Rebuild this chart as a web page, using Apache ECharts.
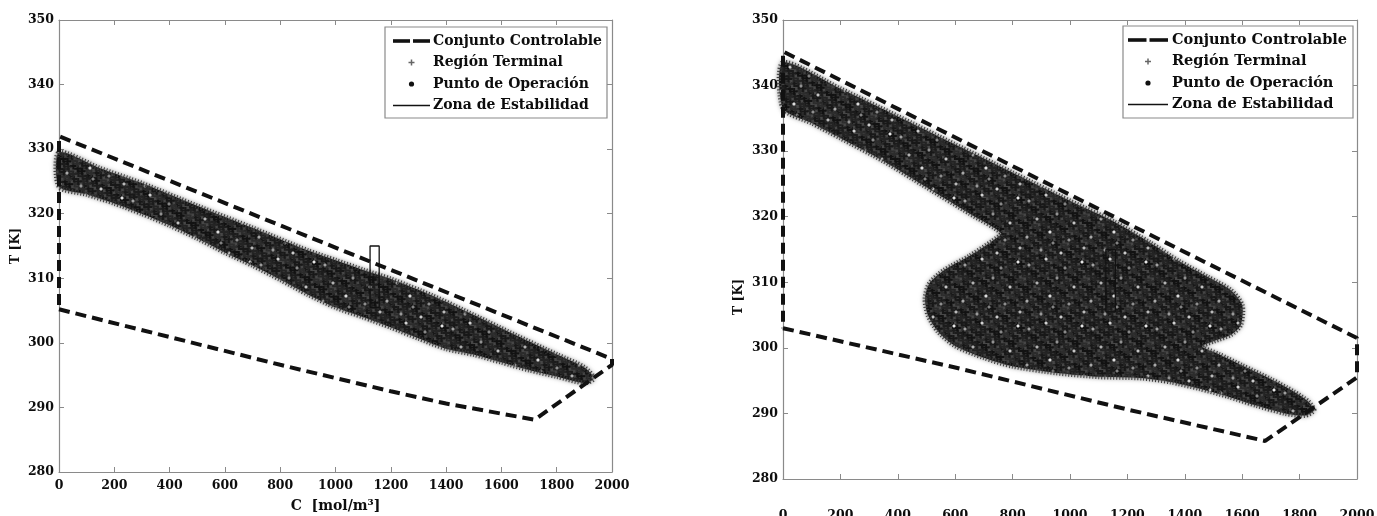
<!DOCTYPE html>
<html>
<head>
<meta charset="utf-8">
<script src="https://cdn.jsdelivr.net/npm/echarts@6/dist/echarts.min.js"></script>
<style>
  html, body { margin: 0; padding: 0; background: #ffffff; }
  #chart { width: 1377px; height: 516px; }
</style>
</head>
<body>
<div id="chart"></div>
<script>
// Controllable set boundary, C [mol/m^3] vs T [K]
const controllableLeft = [[0, 305.2], [400, 300.9], [800, 296.6], [1200, 292.5], [1400, 290.6], [1720, 288.1], [2000, 296.6], [2000, 297.5], [0, 332], [0, 305.2]];
const controllableRight = [[0, 303], [600, 297], [1200, 290.6], [1680, 285.8], [2000, 295.5], [2000, 301.5], [0, 345.2], [0, 303]];

// Outline of the terminal region cloud
const terminalLeft = [
  [0, 329.5], [150, 327], [300, 324.7], [500, 321.2], [700, 317.8], [900, 314.3], [1000, 312.8], [1100, 311.3],
  [1200, 309.9], [1350, 307.3], [1500, 304.3], [1650, 301.2], [1800, 298.2], [1900, 296.2], [1935, 294.5],
  [1900, 293.8], [1800, 294.8], [1700, 295.8], [1600, 297], [1500, 298.2], [1400, 299.1], [1300, 300.7],
  [1200, 302.4], [1100, 304], [1000, 305.5], [900, 307.5], [800, 309.8], [700, 312], [600, 314], [500, 316.2],
  [400, 318.2], [300, 320], [200, 321.6], [100, 323], [0, 324.2]
];
const terminalRight = [
  [0, 343.5], [200, 339.5], [400, 335.3], [600, 331], [800, 326.7], [1000, 322.4], [1150, 319.3], [1280, 316],
  [1380, 313.2], [1480, 310.8], [1560, 308.8], [1600, 306.5], [1595, 303.5], [1560, 302], [1500, 301], [1460, 300.2],
  [1520, 299], [1600, 297.3], [1700, 295.2], [1780, 293.3], [1830, 291.8], [1850, 290.5], [1820, 289.7], [1750, 290],
  [1650, 291.2], [1550, 292.6], [1450, 293.8], [1350, 294.8], [1250, 295.4], [1100, 295.6], [950, 296.2], [800, 297.2],
  [700, 298.5], [600, 300.3], [540, 302.5], [505, 305], [495, 307.5], [510, 309.8], [560, 311.8], [650, 314],
  [730, 316.3], [760, 317.5], [650, 320.5], [500, 324.5], [350, 328.5], [200, 332], [100, 334.3], [0, 336.5]
];

// Stability zone box and operating point (same in both panels)
const stabilityZone = [[1125, 305.5], [1158, 305.5], [1158, 315], [1125, 315], [1125, 305.5]];
const operatingPoint = [[1141, 310]];

// Axis ranges and tick steps
const cRange = [0, 2000], cStep = 200;
const tRange = [280, 350], tStep = 10;

const legendNames = ['Conjunto Controlable', 'Región Terminal', 'Punto de Operación', 'Zona de Estabilidad'];

const FONT = 'DejaVu Serif';
const AXIS_GRAY = '#8a8a8a';
const INK = '#0d0d0d';

// Mottled texture standing in for the dense cloud of overlapping '+' markers
const tile = document.createElement('canvas');
tile.width = 64; tile.height = 64;
(function () {
  const W = tile.width, H = tile.height;
  const g = tile.getContext('2d');
  g.fillStyle = '#474747';
  g.fillRect(0, 0, W, H);
  const a1 = 0.7548776662, a2 = 0.5698402910;   // low-discrepancy spacing for the dark marks
  function plus(x, y, arm, colour, width) {
    g.strokeStyle = colour;
    g.lineWidth = width;
    [-W, 0, W].forEach(function (dx) {
      [-H, 0, H].forEach(function (dy) {
        g.beginPath();
        g.moveTo(x + dx - arm, y + dy); g.lineTo(x + dx + arm, y + dy);
        g.moveTo(x + dx, y + dy - arm); g.lineTo(x + dx, y + dy + arm);
        g.stroke();
      });
    });
  }
  const shades = ['#121212', '#1c1c1c', '#242424', '#181818', '#2c2c2c'];
  for (let i = 0; i < 180; i++) {
    const x = ((0.5 + a1 * i) % 1) * W, y = ((0.5 + a2 * i) % 1) * H;
    plus(x, y, 3.5, shades[i % shades.length], 2);
  }
  // scattered light gaps between the marks
  const gaps = [[5, 9, '#a8a8a8'], [22, 3, '#dcdcdc'], [41, 12, '#8e8e8e'], [58, 6, '#f2f2f2'],
                [13, 27, '#bcbcbc'], [33, 22, '#9a9a9a'], [50, 31, '#cfcfcf'], [3, 45, '#b0b0b0'],
                [26, 40, '#e6e6e6'], [45, 48, '#959595'], [60, 56, '#c4c4c4'], [17, 58, '#a0a0a0'],
                [37, 61, '#d6d6d6'], [29, 51, '#8a8a8a']];
  gaps.forEach(function (s) { plus(s[0], s[1], 1.5, s[2], 1.6); });
})();
const cloudPattern = { image: tile, repeat: 'repeat' };

function regionSeries(points, idx) {
  return {
    type: 'custom', name: legendNames[1], xAxisIndex: idx * 2, yAxisIndex: idx * 2,
    z: 2, silent: true, data: points, encode: { x: 0, y: 1 },
    renderItem: function (params, api) {
      if (params.dataIndex !== 0) return;
      const pts = points.map(function (p) { return api.coord(p); });
      return {
        type: 'polygon',
        shape: { points: pts, smooth: 0.25 },
        style: {
          fill: cloudPattern, stroke: '#3a3a3a', lineWidth: 5, lineDash: [1, 2],
          shadowBlur: 4, shadowColor: 'rgba(0,0,0,0.5)'
        }
      };
    }
  };
}

function panelSeries(controllable, terminal, idx) {
  const ax = idx * 2;
  return [
    regionSeries(terminal, idx),
    {
      type: 'line', name: legendNames[0], xAxisIndex: ax, yAxisIndex: ax, data: controllable,
      symbol: 'none', clip: false, z: 3, silent: true,
      lineStyle: { color: '#111', width: 4, type: [11, 6], cap: 'butt' }
    },
    {
      type: 'line', name: legendNames[3], xAxisIndex: ax, yAxisIndex: ax, data: stabilityZone,
      symbol: 'none', z: 4, silent: true,
      lineStyle: { color: '#111', width: 1.3 }
    },
    {
      type: 'scatter', name: legendNames[2], xAxisIndex: ax, yAxisIndex: ax, data: operatingPoint,
      symbol: 'circle', symbolSize: 4, z: 5, silent: true,
      itemStyle: { color: '#111' }
    }
  ];
}

const plainNumber = function (v) { return String(v); };

function xAxes(grid, labelMargin, name) {
  const common = {
    type: 'value', gridIndex: grid, min: cRange[0], max: cRange[1], interval: cStep,
    splitLine: { show: false },
    axisLine: { show: true, onZero: false, lineStyle: { color: AXIS_GRAY, width: 1.2 } },
    axisTick: { show: true, inside: true, length: 5, lineStyle: { color: AXIS_GRAY } }
  };
  return [
    Object.assign({}, common, {
      position: 'bottom',
      name: name || '', nameLocation: 'middle', nameGap: 27,
      nameTextStyle: { fontFamily: FONT, fontWeight: 'bold', fontSize: 14, color: INK },
      axisLabel: { margin: labelMargin, formatter: plainNumber, fontFamily: FONT, fontWeight: 'bold', fontSize: 12.5, color: INK }
    }),
    Object.assign({}, common, { position: 'top', axisLabel: { show: false } })
  ];
}

function yAxes(grid, name) {
  const common = {
    type: 'value', gridIndex: grid, min: tRange[0], max: tRange[1], interval: tStep,
    splitLine: { show: false },
    axisLine: { show: true, onZero: false, lineStyle: { color: AXIS_GRAY, width: 1.2 } },
    axisTick: { show: true, inside: true, length: 5, lineStyle: { color: AXIS_GRAY } }
  };
  return [
    Object.assign({}, common, {
      position: 'left',
      name: name || '', nameLocation: 'middle', nameGap: 37,
      nameTextStyle: { fontFamily: FONT, fontWeight: 'bold', fontSize: 12.5, color: INK },
      axisLabel: { margin: 5, formatter: plainNumber, fontFamily: FONT, fontWeight: 'bold', fontSize: 12.5, color: INK }
    }),
    Object.assign({}, common, { position: 'right', axisLabel: { show: false } })
  ];
}

// Boxed legend drawn with graphic elements
function legendBox(box, iconL, iconR, textX, rows, fontSize) {
  const txt = { fontFamily: FONT, fontWeight: 'bold', fontSize: fontSize, fill: INK };
  const mid = (iconL + iconR) / 2, half = (iconR - iconL - 3) / 2;
  const els = [
    { type: 'rect', shape: { x: box[0], y: box[1], width: box[2], height: box[3] },
      style: { fill: '#fff', stroke: AXIS_GRAY, lineWidth: 1.2 }, z: 50 },
    // dashed line sample
    { type: 'rect', shape: { x: iconL, y: rows[0] - 1.8, width: half, height: 3.6 }, style: { fill: '#111' }, z: 51 },
    { type: 'rect', shape: { x: iconL + half + 3, y: rows[0] - 1.8, width: half, height: 3.6 }, style: { fill: '#111' }, z: 51 },
    // plus marker sample
    { type: 'polyline', shape: { points: [[mid - 3, rows[1]], [mid + 3, rows[1]]] }, style: { stroke: '#666', lineWidth: 1.5 }, z: 51 },
    { type: 'polyline', shape: { points: [[mid, rows[1] - 3], [mid, rows[1] + 3]] }, style: { stroke: '#666', lineWidth: 1.5 }, z: 51 },
    // dot sample
    { type: 'circle', shape: { cx: mid, cy: rows[2], r: 2.6 }, style: { fill: '#111' }, z: 51 },
    // solid line sample
    { type: 'polyline', shape: { points: [[iconL, rows[3]], [iconR, rows[3]]] }, style: { stroke: '#111', lineWidth: 1.6 }, z: 51 }
  ];
  legendNames.forEach(function (n, i) {
    els.push({ type: 'text', x: textX, y: rows[i], z: 51,
      style: Object.assign({ text: n, verticalAlign: 'middle', align: 'left' }, txt) });
  });
  return els;
}

const chart = echarts.init(document.getElementById('chart'), null, { renderer: 'canvas' });

const option = {
  backgroundColor: '#ffffff',
  animation: false,
  grid: [
    { left: 59, top: 20, width: 553, height: 452, show: false, outerBoundsMode: 'none' },
    { left: 783, top: 20, width: 574, height: 459, show: false, outerBoundsMode: 'none' }
  ],
  xAxis: [].concat(xAxes(0, 7, 'C  [mol/m³]'), xAxes(1, 30, '')),
  yAxis: [].concat(yAxes(0, 'T [K]'), yAxes(1, '')),
  series: [].concat(
    panelSeries(controllableLeft, terminalLeft, 0),
    panelSeries(controllableRight, terminalRight, 1)
  ),
  graphic: [].concat(
    legendBox([385, 27, 222, 91], 393, 430, 433, [41, 62.5, 84, 105.5], 14),
    legendBox([1123, 26, 230, 92], 1128, 1168, 1172, [40, 61.5, 83, 104.5], 14.5),
    [
      { type: 'text', x: 739, y: 297, rotation: Math.PI / 2, z: 51,
        style: { text: 'T [K]', align: 'center', verticalAlign: 'middle', fontFamily: FONT, fontWeight: 'bold', fontSize: 12.5, fill: INK } }
    ]
  )
};

chart.setOption(option);
</script>
</body>
</html>
